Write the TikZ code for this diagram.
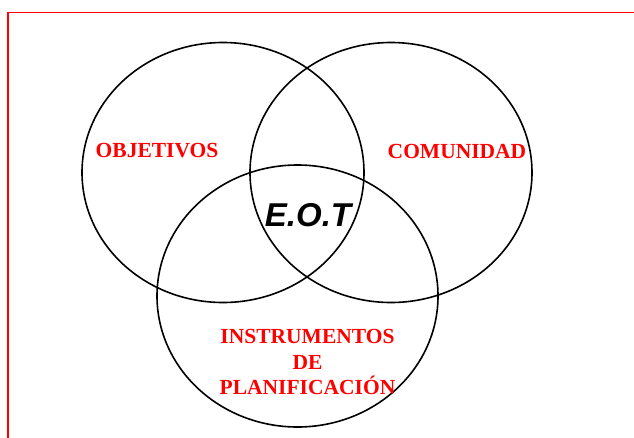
\documentclass[tikz,border=0pt]{standalone}
\usepackage{fontspec}
\setmainfont{Liberation Serif}
\newfontfamily\eotfont{Liberation Sans}
\begin{document}
\begin{tikzpicture}[x=1pt,y=-1pt,
  circ/.style={draw=black,line width=1.6pt},
  lbl/.style={text=red,font=\fontsize{21.5}{25.5}\selectfont\bfseries,align=center,inner sep=0pt}]
\useasboundingbox (0,0) rectangle (634,437);
\draw[red,line width=1.8pt] (8,440) -- (8,12.5) -- (640,12.5);
\draw[circ] (223,172.5) ellipse [x radius=141,y radius=130];
\draw[circ] (391,172.5) ellipse [x radius=141,y radius=130];
\draw[circ] (297.5,296) ellipse [x radius=140.5,y radius=131];
\node[lbl] (obj) at (157,151) {OBJETIVOS};
\node[lbl] (com) at (457,151) {COMUNIDAD};
\node[lbl] (ins) at (307.5,362) {INSTRUMENTOS\\DE\\PLANIFICACIÓN};
\node[inner sep=0pt,font=\eotfont\fontsize{33}{36}\selectfont\bfseries\itshape] (eot) at (308,215) {E.O.T};
\end{tikzpicture}
\end{document}
